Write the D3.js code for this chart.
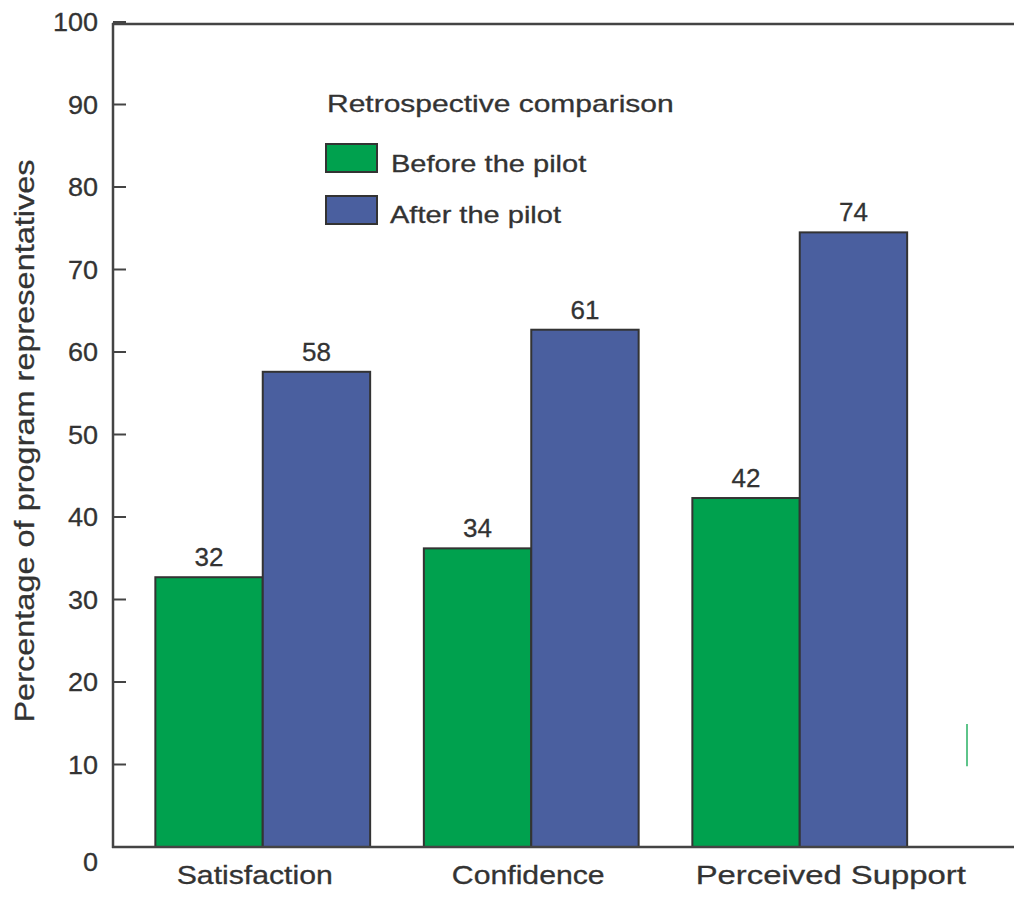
<!DOCTYPE html>
<html>
<head>
<meta charset="utf-8">
<script src="https://cdn.jsdelivr.net/npm/d3@7"></script>
<style>
  html, body { margin: 0; padding: 0; background: #fff; }
  svg { display: block; }
  text { font-family: "Liberation Sans", Arial, sans-serif; fill: #333; stroke: #333; stroke-width: 0.3px; }
</style>
</head>
<body>
<svg id="chart" width="1014" height="897"></svg>
<script>
// ---- data ----
const categories = ["Satisfaction", "Confidence", "Perceived Support"];
const seriesNames = ["Before the pilot", "After the pilot"];
const beforeValues = [32.7, 36.2, 42.3];   // bar heights as drawn
const afterValues  = [57.6, 62.7, 74.5];
const beforeLabels = ["32", "34", "42"];   // printed value labels
const afterLabels  = ["58", "61", "74"];
const yTicks = [0, 10, 20, 30, 40, 50, 60, 70, 80, 90, 100];
const legendTitle = "Retrospective comparison";
const yTitle = "Percentage of program representatives";

const colors = ["#00a14e", "#4a5f9f"];
const svg = d3.select("#chart");
const W = 1014;

const y = d3.scaleLinear().domain([0, 100]).range([847, 22]);
const x0 = d3.scaleBand().domain(categories).range([128.5, 934]).paddingInner(0.2).paddingOuter(0.1);
const x1 = d3.scaleBand().domain(seriesNames).range([0, x0.bandwidth()]);

const axisColor = "#444";

// bars
const rows = categories.map((c, i) => ({
  cat: c,
  vals: [
    { s: seriesNames[0], v: beforeValues[i], lab: beforeLabels[i] },
    { s: seriesNames[1], v: afterValues[i], lab: afterLabels[i] }
  ]
}));

const g = svg.append("g");
const grp = g.selectAll("g.grp").data(rows).join("g")
  .attr("transform", d => `translate(${x0(d.cat)},0)`);

grp.selectAll("rect").data(d => d.vals).join("rect")
  .attr("x", d => x1(d.s))
  .attr("y", d => y(d.v))
  .attr("width", x1.bandwidth())
  .attr("height", d => y(0) - y(d.v))
  .attr("fill", (d, i) => colors[i])
  .attr("stroke", "#333")
  .attr("stroke-width", 2);

grp.selectAll("text.val").data(d => d.vals).join("text")
  .attr("class", "val")
  .attr("x", d => x1(d.s) + x1.bandwidth() / 2)
  .attr("y", d => y(d.v) - 11)
  .attr("text-anchor", "middle")
  .attr("font-size", 26)
  .text(d => d.lab);

// axes lines
g.append("line").attr("x1", 113).attr("x2", 113).attr("y1", y(100) + 1).attr("y2", y(0) + 1)
  .attr("stroke", axisColor).attr("stroke-width", 2.5);
g.append("line").attr("x1", 112).attr("x2", W).attr("y1", y(100) + 2).attr("y2", y(100) + 2)
  .attr("stroke", axisColor).attr("stroke-width", 2.5);
g.append("line").attr("x1", 112).attr("x2", W).attr("y1", y(0)).attr("y2", y(0))
  .attr("stroke", axisColor).attr("stroke-width", 2.5);

// y ticks (inside)
g.selectAll("line.tick").data(yTicks).join("line")
  .attr("class", "tick")
  .attr("x1", 113).attr("x2", 126)
  .attr("y1", d => y(d)).attr("y2", d => y(d))
  .attr("stroke", axisColor).attr("stroke-width", 2);

g.selectAll("text.ytick").data(yTicks).join("text")
  .attr("class", "ytick")
  .attr("transform", d => `translate(98,${y(d) + (d === 0 ? 24 : 9)}) scale(1.06,1)`)
  .attr("text-anchor", "end")
  .attr("font-size", 25.5)
  .text(d => d);

// x category labels
const xLabelShift = [-8, -3, 31];
const xLabelStretch = [1.14, 1.14, 1.24];
g.selectAll("text.xlab").data(categories).join("text")
  .attr("class", "xlab")
  .attr("transform", (d, i) => `translate(${x0(d) + x0.bandwidth() / 2 + xLabelShift[i]},884) scale(${xLabelStretch[i]},1)`)
  .attr("text-anchor", "middle")
  .attr("font-size", 26.5)
  .text(d => d);

// y title
g.append("text")
  .attr("transform", "translate(34,441) rotate(-90) scale(1.16,1)")
  .attr("text-anchor", "middle")
  .attr("font-size", 28)
  .text(yTitle);

// legend
const lg = g.append("g");
lg.append("text")
  .attr("transform", "translate(327,112) scale(1.25,1)")
  .attr("font-size", 24)
  .text(legendTitle);
const legendRowsY = [144, 196];
const legendTextY = [172, 223];
seriesNames.forEach((s, i) => {
  lg.append("rect")
    .attr("x", 326).attr("y", legendRowsY[i])
    .attr("width", 51).attr("height", 28)
    .attr("fill", colors[i]).attr("stroke", "#333").attr("stroke-width", 2);
  lg.append("text")
    .attr("transform", `translate(${391 - i},${legendTextY[i]}) scale(1.21,1)`)
    .attr("font-size", 24)
    .text(s);
});

// small green stroke artifact at lower right
g.append("line")
  .attr("x1", 967).attr("x2", 967)
  .attr("y1", y(14.9)).attr("y2", y(9.8))
  .attr("stroke", "#5ec48a").attr("stroke-width", 2);
</script>
</body>
</html>
